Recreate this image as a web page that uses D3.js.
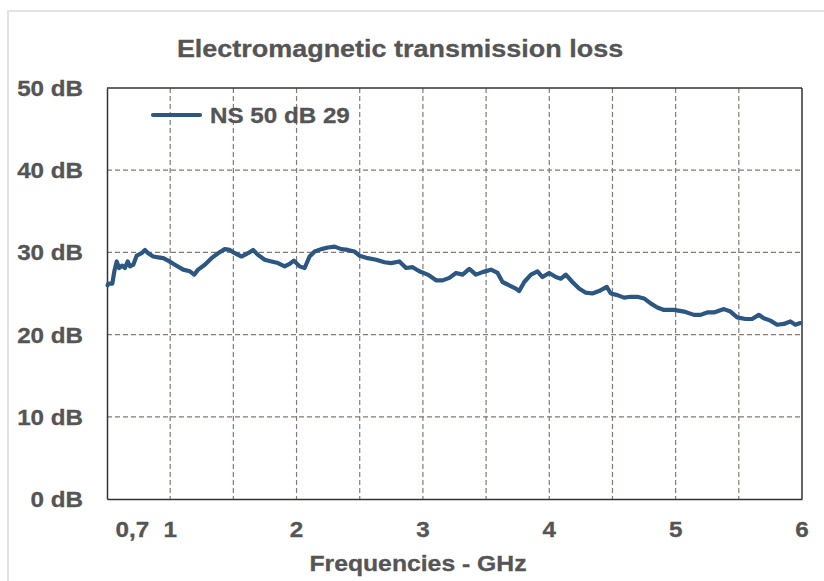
<!DOCTYPE html>
<html>
<head>
<meta charset="utf-8">
<script src="https://cdn.jsdelivr.net/npm/d3@7"></script>
<style>
  html, body { margin: 0; padding: 0; background: #fff; }
  svg { display: block; }
  text { font-family: "Liberation Sans", Arial, sans-serif; font-weight: bold; fill: #555; }
</style>
</head>
<body>
<svg id="chart" width="824" height="581"></svg>
<script>
// ---- Data ----
const title = "Electromagnetic transmission loss";
const seriesName = "NS 50 dB 29";
const xAxisTitle = "Frequencies - GHz";
const xTickValues = [0.7, 1, 2, 3, 4, 5, 6];
const xTickLabels = ["0,7", "1", "2", "3", "4", "5", "6"];
const yTickValues = [0, 10, 20, 30, 40, 50];
const yTickLabels = ["0 dB", "10 dB", "20 dB", "30 dB", "40 dB", "50 dB"];
const xGridValues = [1, 1.5, 2, 2.5, 3, 3.5, 4, 4.5, 5, 5.5];
const yGridValues = [10, 20, 30, 40];

const freqGHz = [0.505, 0.510, 0.542, 0.558, 0.577, 0.595, 0.621, 0.642, 0.664, 0.682, 0.708, 0.735, 0.774, 0.800, 0.826, 0.866, 0.905, 0.945, 0.984,
  1.037, 1.103, 1.156, 1.190, 1.221, 1.274, 1.327, 1.379, 1.432, 1.472, 1.511, 1.564, 1.616, 1.656, 1.695, 1.748, 1.801, 1.853, 1.906, 1.945, 1.979,
  2.024, 2.064, 2.103, 2.143, 2.196, 2.248, 2.301, 2.354, 2.406, 2.459, 2.498, 2.564, 2.630, 2.696, 2.749, 2.814, 2.867, 2.919, 2.972,
  3.038, 3.104, 3.156, 3.209, 3.262, 3.314, 3.367, 3.420, 3.472, 3.539, 3.591, 3.630, 3.683, 3.736, 3.762, 3.802, 3.855, 3.907, 3.946, 3.999,
  4.052, 4.092, 4.131, 4.183, 4.236, 4.289, 4.341, 4.394, 4.455, 4.487, 4.539, 4.592, 4.645, 4.697, 4.750, 4.802, 4.855, 4.908, 4.987,
  5.066, 5.145, 5.197, 5.250, 5.303, 5.382, 5.434, 5.487, 5.553, 5.605, 5.658, 5.698, 5.750, 5.803, 5.856, 5.908, 5.948, 5.987];
const lossDB = [26.0, 26.2, 26.2, 27.7, 28.9, 28.1, 28.4, 28.1, 28.9, 28.3, 28.5, 29.6, 29.9, 30.3, 29.9, 29.5, 29.4, 29.3, 29.0,
  28.5, 27.9, 27.7, 27.3, 27.9, 28.5, 29.3, 29.9, 30.4, 30.3, 29.9, 29.5, 29.9, 30.3, 29.7, 29.1, 28.9, 28.7, 28.3, 28.6, 29.0,
  28.3, 28.1, 29.5, 30.1, 30.4, 30.6, 30.7, 30.4, 30.3, 30.1, 29.6, 29.3, 29.1, 28.8, 28.7, 28.9, 28.1, 28.2, 27.7,
  27.3, 26.6, 26.6, 26.9, 27.5, 27.3, 28.0, 27.3, 27.6, 27.9, 27.5, 26.4, 26.0, 25.6, 25.3, 26.4, 27.3, 27.7, 27.0, 27.5,
  27.0, 26.8, 27.3, 26.4, 25.6, 25.1, 25.0, 25.3, 25.8, 25.0, 24.8, 24.5, 24.6, 24.6, 24.4, 23.8, 23.3, 23.0, 23.0,
  22.8, 22.4, 22.4, 22.7, 22.7, 23.1, 22.8, 22.1, 21.9, 21.9, 22.4, 22.0, 21.7, 21.2, 21.3, 21.6, 21.2, 21.4];

// ---- Layout ----
const svg = d3.select("#chart");
const plot = { left: 107, right: 802, top: 88, bottom: 499 };
const x = d3.scaleLinear().domain([0.5, 6]).range([plot.left, plot.right]);
const y = d3.scaleLinear().domain([0, 50]).range([plot.bottom, plot.top]);
const textColor = "#555";
const stretch = 1.1;

// outer frame
svg.append("rect").attr("x", 8).attr("y", 11).attr("width", 840).attr("height", 600)
  .attr("fill", "#fff").attr("stroke", "#e3e3e3").attr("stroke-width", 2);

function addText(tx, ty, str, size, anchor) {
  const g = svg.append("g").attr("transform", `translate(${tx},${ty}) scale(${stretch},1)`);
  g.append("text").attr("x", 0).attr("y", 0).attr("text-anchor", anchor || "middle")
    .style("font-size", size + "px").style("fill", textColor)
    .style("stroke", textColor).style("stroke-width", 0.3).text(str);
  return g;
}

// grid
const grid = svg.append("g");
grid.selectAll("line.h").data(yGridValues).join("line").attr("class", "h")
  .attr("x1", plot.left).attr("x2", plot.right)
  .attr("y1", d => y(d)).attr("y2", d => y(d))
  .attr("stroke", "#857a74").attr("stroke-width", 1.2).attr("stroke-dasharray", "5,3");
grid.selectAll("line.v").data(xGridValues).join("line").attr("class", "v")
  .attr("x1", d => x(d)).attr("x2", d => x(d))
  .attr("y1", plot.top).attr("y2", plot.bottom)
  .attr("stroke", "#857a74").attr("stroke-width", 1.2).attr("stroke-dasharray", "5,3");

// axes (lines via d3 axis, labels custom)
const xAxis = svg.append("g").attr("transform", `translate(0,${plot.bottom})`)
  .call(d3.axisBottom(x).tickValues([]).tickSizeOuter(0));
xAxis.select(".domain").attr("stroke", "#333").attr("stroke-width", 1.5);
const yAxis = svg.append("g").attr("transform", `translate(${plot.left},0)`)
  .call(d3.axisLeft(y).tickValues([]).tickSizeOuter(0));
yAxis.select(".domain").attr("stroke", "#333").attr("stroke-width", 1.5);
// top & right border
svg.append("line").attr("x1", plot.left).attr("x2", plot.right).attr("y1", y(50)).attr("y2", y(50))
  .attr("stroke", "#333").attr("stroke-width", 1.3);
svg.append("line").attr("x1", x(6)).attr("x2", x(6)).attr("y1", plot.top).attr("y2", plot.bottom)
  .attr("stroke", "#333").attr("stroke-width", 1.5);

// tick labels
yTickValues.forEach((v, i) => addText(83, y(v) + 8, yTickLabels[i], 22, "end"));
xTickValues.forEach((v, i) => addText(x(v), 537, xTickLabels[i], 22, "middle"));

// title & axis title
addText(400, 57, title, 24.5, "middle");
addText(418, 571, xAxisTitle, 22.5, "middle");

// data line
const line = d3.line().x((d, i) => x(freqGHz[i])).y(d => y(d)).curve(d3.curveLinear);
svg.append("path").datum(lossDB).attr("d", line)
  .attr("fill", "none").attr("stroke", "#2b5782").attr("stroke-width", 4.2)
  .attr("stroke-linejoin", "round").attr("stroke-linecap", "round");

// legend
svg.append("line").attr("x1", 153).attr("x2", 200).attr("y1", 115).attr("y2", 115)
  .attr("stroke", "#2b5782").attr("stroke-width", 4.2).attr("stroke-linecap", "round");
addText(210, 123, seriesName, 22, "start");
</script>
</body>
</html>
